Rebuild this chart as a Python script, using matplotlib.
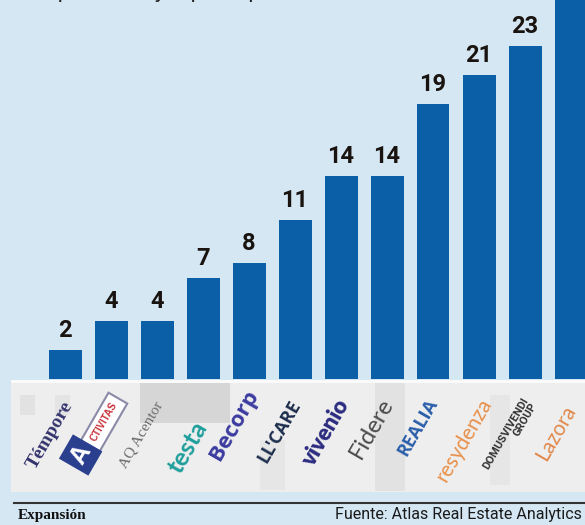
import matplotlib
matplotlib.use("Agg")
import matplotlib.pyplot as plt
import matplotlib.transforms as mtransforms
from matplotlib.patches import Rectangle
from matplotlib.lines import Line2D

# ---- data ----
operators = ["Témpore", "Activitas", "AQ Acentor", "testa", "Becorp", "LL'CARE",
             "vivenio", "Fidere", "REALIA", "resydenza", "DOMUSVIVENDI\nGROUP", "Lazora"]
values = [2, 4, 4, 7, 8, 11, 14, 14, 19, 21, 23, 27]
subtitle = "En porcentaje, por operador"
source = "Fuente: Atlas Real Estate Analytics"
brand = "Expansión"

# ---- styles ----
BG = "#d5e7f3"
BAR = "#0b5fa6"
W, H = 585, 525
logo_style = [
    dict(color="#34346e", family="Liberation Serif", weight="bold", size=14, dy=0),
    dict(color="#2b3f8f", family="Liberation Sans", weight="bold", size=11, dy=0),
    dict(color="#6a6a6a", family="Liberation Serif", weight="normal", size=11, dy=0),
    dict(color="#1e9e9c", family="Lato", weight="bold", size=18, dy=12),
    dict(color="#3a3aa0", family="Open Sans", weight="bold", size=16, dy=-10),
    dict(color="#1b2c4c", family="Open Sans", weight="bold", size=13, dy=-3),
    dict(color="#2b2b80", family="Lato", weight="heavy", size=16, dy=-2),
    dict(color="#4a4a4a", family="Lato", weight="normal", size=17, dy=-7),
    dict(color="#2a5eaa", family="Open Sans", weight="bold", size=13, dy=-8),
    dict(color="#e8904a", family="Lato", weight="normal", size=15, dy=5),
    dict(color="#333333", family="Roboto", weight="bold", size=8, dy=1),
    dict(color="#e0884a", family="Lato", weight="normal", size=15, dy=-2),
]

fig = plt.figure(figsize=(W / 100, H / 100), dpi=100, facecolor=BG)

base_px = 379
px_per_unit = 14.5
ax = fig.add_axes([0, (H - base_px) / H, 1, base_px / H])
ax.set_facecolor("none")
x = list(range(len(values)))
ax.bar(x, values, width=33 / 46, color=BAR, linewidth=0)
ax.set_xlim(-65 / 46, (W - 65) / 46)
ax.set_ylim(0, base_px / px_per_unit)
ax.axis("off")

for xi, v in zip(x, values):
    ax.annotate(str(v), (xi, v), xytext=(0, 5.5), textcoords="offset points",
                ha="center", va="bottom", fontsize=17, fontweight="bold",
                family=["Roboto", "DejaVu Sans"], color="#1a1410",
                annotation_clip=False)

# logo strip
fig.add_artist(Rectangle((11 / W, 1 - 492 / H), 1 - 11 / W, 112 / H,
                         transform=fig.transFigure, facecolor="#eeeeee",
                         edgecolor="none", zorder=0))
fig.add_artist(Rectangle((11 / W, 1 - 383 / H), 1 - 11 / W, 3 / H,
                         transform=fig.transFigure, facecolor="#fafafa",
                         edgecolor="none", zorder=0))
for (x0, y0, w, h, c) in [(140, 383, 90, 40, "#d6d6d6"), (375, 383, 30, 108, "#e2e2e2"),
                          (20, 395, 15, 20, "#e2e2e2"), (55, 395, 15, 20, "#e4e4e4"),
                          (490, 395, 20, 90, "#e6e6e6"), (260, 440, 25, 50, "#e6e6e6")]:
    fig.add_artist(Rectangle((x0 / W, 1 - (y0 + h) / H), w / W, h / H,
                             transform=fig.transFigure, facecolor=c,
                             edgecolor="none", zorder=0))

trans = mtransforms.blended_transform_factory(ax.transData, fig.transFigure)
for xi, name, st in zip(x, operators, logo_style):
    yc = 1 - (435 + st["dy"]) / H
    kw = dict(ha="center", va="center", rotation=60, rotation_mode="anchor",
              transform=trans, color=st["color"], fontsize=st["size"],
              fontweight=st["weight"], family=[st["family"], "DejaVu Sans"],
              clip_on=False, multialignment="right", linespacing=0.9)
    if name == "Activitas":
        ax.text(xi - 0.15, 1 - 422 / H, "CTIVITAS",
                bbox=dict(boxstyle="square,pad=0.6", fc="white", ec="#8a8aa8", lw=1.5),
                **{**kw, "color": "#c8323a", "fontsize": 7})
        ax.text(xi - 0.66, 1 - 455 / H, "A",
                bbox=dict(boxstyle="square,pad=0.2", fc="#2b3f8f", ec="none"),
                **{**kw, "color": "white", "fontsize": 18})
    else:
        ax.text(xi - 0.33, yc, name, **kw)

# footer
fig.add_artist(Line2D([14 / W, 1], [1 - 503 / H] * 2, color="#333333", lw=1.5,
                      transform=fig.transFigure))
fig.text(18 / W, 1 - 515 / H, brand, family=["Liberation Serif", "DejaVu Serif"],
         fontweight="bold", fontsize=11, va="center", ha="left", color="#111111")
fig.text(582 / W, 1 - 514 / H, source, family=["Roboto", "DejaVu Sans"],
         fontsize=11.5, va="center", ha="right", color="#1a1a1a")
fig.text(22 / W, 1 + 2 / H, subtitle, family=["DejaVu Sans"], fontsize=16,
         va="baseline", ha="left", color="#222222")

fig.savefig("out.png", dpi=100, facecolor=BG)
